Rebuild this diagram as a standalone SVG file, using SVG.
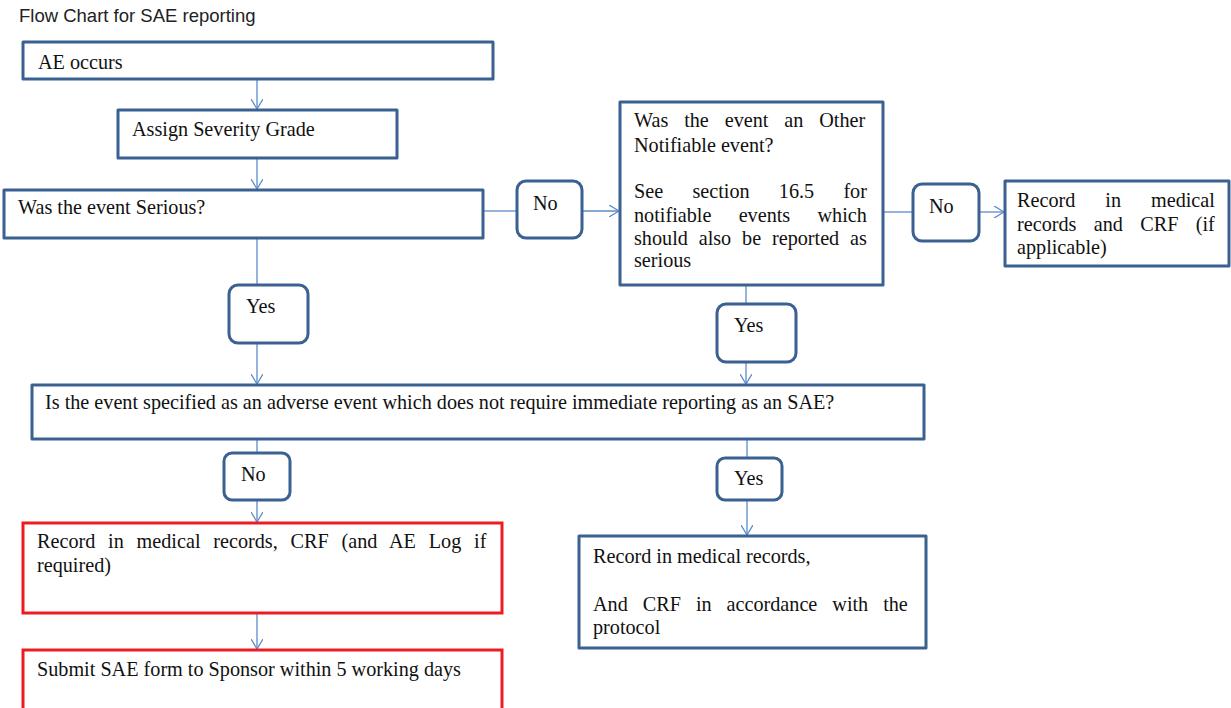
<svg xmlns="http://www.w3.org/2000/svg" width="1231" height="708" viewBox="0 0 1231 708">
<defs>
<style>
.box{fill:#fff;stroke:#3a6191;stroke-width:3;stroke-linejoin:round}
.red{fill:#fff;stroke:#ec1c24;stroke-width:3}
.lab{fill:#fff;stroke:#3a6191;stroke-width:3}
.t{font-family:"Liberation Serif","Times New Roman",serif;font-size:20.2px;fill:#111}
.title{font-family:"Liberation Sans",Arial,sans-serif;font-size:18.5px;fill:#222}
.c{stroke:#5b8ccb;stroke-width:1.3;fill:none}
</style>
<marker id="ah" viewBox="0 0 10 12" refX="10" refY="6" markerWidth="10" markerHeight="12" markerUnits="userSpaceOnUse" orient="auto">
<path d="M0,0 L10,6 L0,12" fill="none" stroke="#5b8ccb" stroke-width="1.3"/>
</marker>
</defs>
<rect width="1231" height="708" fill="#fff"/>
<text class="title" x="19" y="22">Flow Chart for SAE reporting</text>

<g id="connectors">
<line class="c" x1="257" y1="80" x2="257" y2="109" marker-end="url(#ah)"/>
<line class="c" x1="257" y1="159" x2="257" y2="189" marker-end="url(#ah)"/>
<line class="c" x1="484" y1="211" x2="516" y2="211"/>
<line class="c" x1="583" y1="211" x2="619" y2="211" marker-end="url(#ah)"/>
<line class="c" x1="884" y1="212" x2="912" y2="212"/>
<line class="c" x1="980" y1="212" x2="1004" y2="212" marker-end="url(#ah)"/>
<line class="c" x1="257" y1="239" x2="257" y2="285"/>
<line class="c" x1="257" y1="344" x2="257" y2="384" marker-end="url(#ah)"/>
<line class="c" x1="746" y1="286" x2="746" y2="304"/>
<line class="c" x1="746" y1="363" x2="746" y2="384" marker-end="url(#ah)"/>
<line class="c" x1="257" y1="440" x2="257" y2="453"/>
<line class="c" x1="257" y1="501" x2="257" y2="522" marker-end="url(#ah)"/>
<line class="c" x1="747" y1="440" x2="747" y2="458"/>
<line class="c" x1="747" y1="501" x2="747" y2="535" marker-end="url(#ah)"/>
<line class="c" x1="257" y1="614" x2="257" y2="649" marker-end="url(#ah)"/>
</g>

<g id="ae-occurs">
<rect class="box" x="23" y="42" width="470" height="37"/>
<text class="t" x="38" y="69">AE occurs</text>
</g>

<g id="assign-severity">
<rect class="box" x="118" y="110" width="279" height="48"/>
<text class="t" x="132" y="136">Assign Severity Grade</text>
</g>

<g id="was-serious">
<rect class="box" x="4" y="190" width="479" height="48"/>
<text class="t" x="18" y="214">Was the event Serious?</text>
</g>

<g id="no-1">
<rect class="lab" x="517" y="181" width="65" height="57" rx="9"/>
<text class="t" x="533" y="210">No</text>
</g>

<g id="other-notifiable">
<rect class="box" x="620" y="102" width="263" height="183"/>
<text class="t" x="634" y="127" word-spacing="10.85">Was the event an Other</text>
<text class="t" x="634" y="152">Notifiable event?</text>
<text class="t" x="634" y="198" word-spacing="24.2">See section 16.5 for</text>
<text class="t" x="634" y="222" word-spacing="22.25">notifiable events which</text>
<text class="t" x="634" y="245" word-spacing="5.8">should also be reported as</text>
<text class="t" x="634" y="267">serious</text>
</g>

<g id="no-2">
<rect class="lab" x="913" y="184" width="66" height="57" rx="9"/>
<text class="t" x="929" y="213">No</text>
</g>

<g id="record-crf-applicable">
<rect class="box" x="1005" y="181" width="224" height="85"/>
<text class="t" x="1017" y="207" word-spacing="24.95">Record in medical</text>
<text class="t" x="1017" y="231" word-spacing="12.3">records and CRF (if</text>
<text class="t" x="1017" y="254">applicable)</text>
</g>

<g id="yes-1">
<rect class="lab" x="229" y="285" width="79" height="58" rx="9"/>
<text class="t" x="246" y="313">Yes</text>
</g>

<g id="yes-2">
<rect class="lab" x="717" y="304" width="79" height="58" rx="9"/>
<text class="t" x="734" y="332">Yes</text>
</g>

<g id="not-immediate">
<rect class="box" x="32" y="385" width="892" height="54"/>
<text class="t" x="45" y="409">Is the event specified as an adverse event which does not require immediate reporting as an SAE?</text>
</g>

<g id="no-3">
<rect class="lab" x="224" y="453" width="66" height="47" rx="8"/>
<text class="t" x="241" y="481">No</text>
</g>

<g id="yes-3">
<rect class="lab" x="717" y="458" width="65" height="42" rx="8"/>
<text class="t" x="734" y="485">Yes</text>
</g>

<g id="record-crf-ae-log">
<rect class="red" x="23" y="523" width="479" height="90"/>
<text class="t" x="37" y="548" word-spacing="7.75">Record in medical records, CRF (and AE Log if</text>
<text class="t" x="37" y="572">required)</text>
</g>

<g id="submit-sae">
<rect class="red" x="23" y="650" width="479" height="70"/>
<text class="t" x="37" y="676">Submit SAE form to Sponsor within 5 working days</text>
</g>

<g id="record-protocol">
<rect class="box" x="579" y="536" width="347" height="112"/>
<text class="t" x="593" y="563">Record in medical records,</text>
<text class="t" x="593" y="611" word-spacing="9.93">And CRF in accordance with the</text>
<text class="t" x="593" y="634">protocol</text>
</g>
</svg>
